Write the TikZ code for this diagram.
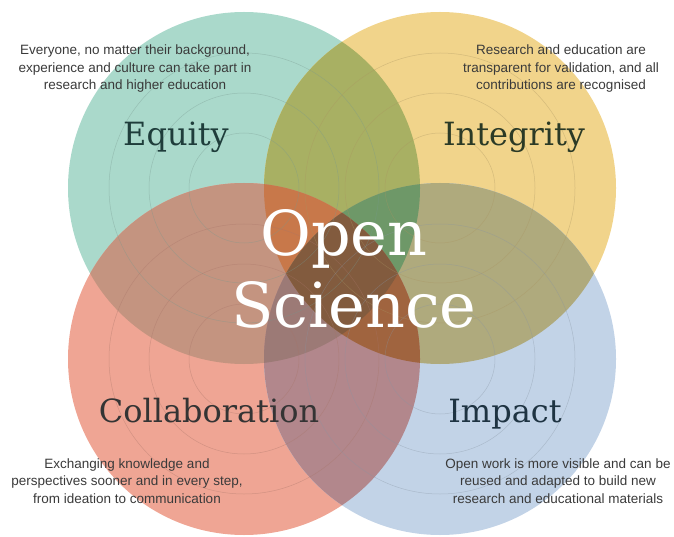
\documentclass[tikz,border=0pt]{standalone}
\usepackage{fontspec}
\setmainfont{Liberation Sans}
\newfontfamily\slabfont{DejaVu Serif}
% single circles
\definecolor{EquityTeal}{HTML}{AAD9CB}
\definecolor{IntegrityGold}{HTML}{F1D48B}
\definecolor{CollabRed}{HTML}{EFA594}
\definecolor{ImpactBlue}{HTML}{C2D3E7}
% overlaps
\definecolor{TealGold}{HTML}{A8B063}
\definecolor{TealRed}{HTML}{C49480}
\definecolor{GoldBlue}{HTML}{AFAA7D}
\definecolor{RedBlue}{HTML}{B2878C}
\definecolor{TealGoldRed}{HTML}{C8784A}
\definecolor{TealGoldBlue}{HTML}{6E9868}
\definecolor{TealRedBlue}{HTML}{9C7A76}
\definecolor{GoldRedBlue}{HTML}{A0643F}
\definecolor{AllFour}{HTML}{825B3E}
% inks
\definecolor{EquityInk}{HTML}{1F3D3B}
\definecolor{IntegrityInk}{HTML}{2B3A26}
\definecolor{CollabInk}{HTML}{343434}
\definecolor{ImpactInk}{HTML}{1E3342}
\definecolor{BlurbGrey}{HTML}{3A3A3A}
\def\petalR{176pt}

\begin{document}
\begin{tikzpicture}[x=1pt, y=-1pt,
    ring/.style={line width=0.5pt, draw opacity=0.4},
    heading/.style={font=\slabfont\fontsize{32}{38}\selectfont, anchor=base},
    core/.style={font=\slabfont\fontsize{62}{70}\selectfont, text=white, anchor=base},
    blurb/.style={font=\fontsize{13.5}{17.5}\selectfont, align=center, text=BlurbGrey}]

    \useasboundingbox (0,0) rectangle (674,537);

    % Circle centres
    \coordinate (equity) at (244,188);
    \coordinate (integrity) at (440,188);
    \coordinate (collab) at (244,359);
    \coordinate (impact) at (440,359);

    % Single circles
    \foreach \name/\col in {equity/EquityTeal, integrity/IntegrityGold, collab/CollabRed, impact/ImpactBlue}
        \fill[\col] (\name) circle[radius=\petalR];

    % Pairwise overlaps
    \foreach \a/\b/\col in {equity/integrity/TealGold, equity/collab/TealRed,
                            integrity/impact/GoldBlue, collab/impact/RedBlue}{
        \begin{scope}
            \clip (\a) circle[radius=\petalR];
            \fill[\col] (\b) circle[radius=\petalR];
        \end{scope}
    }

    % Triple overlaps
    \foreach \a/\b/\c/\col in {equity/integrity/collab/TealGoldRed, equity/integrity/impact/TealGoldBlue,
                               equity/collab/impact/TealRedBlue, integrity/collab/impact/GoldRedBlue}{
        \begin{scope}
            \clip (\a) circle[radius=\petalR];
            \clip (\b) circle[radius=\petalR];
            \fill[\col] (\c) circle[radius=\petalR];
        \end{scope}
    }

    % All four
    \begin{scope}
        \clip (equity) circle[radius=\petalR];
        \clip (integrity) circle[radius=\petalR];
        \clip (collab) circle[radius=\petalR];
        \fill[AllFour] (impact) circle[radius=\petalR];
    \end{scope}

    % Faint rings inside each circle
    \foreach \name/\col in {equity/EquityTeal, integrity/IntegrityGold, collab/CollabRed, impact/ImpactBlue}
        \foreach \r in {55,95,135}
            \draw[ring, \col!70!black] (\name) circle[radius=\r pt];

    % Headings
    \node[heading, text=EquityInk] (equityTitle) at (176,146) {Equity};
    \node[heading, text=IntegrityInk] (integrityTitle) at (514,146) {Integrity};
    \node[heading, text=CollabInk] (collabTitle) at (209,422) {Collaboration};
    \node[heading, text=ImpactInk] (impactTitle) at (505,422) {Impact};

    % Centre title
    \node[core] (open) at (344,255) {Open};
    \node[core] (science) at (354,327) {Science};

    % Descriptions
    \node[blurb] (equityText) at (135,69) {Everyone, no matter their background,\\experience and culture can take part in\\research and higher education};
    \node[blurb] (integrityText) at (561,69) {Research and education are\\transparent for validation, and all\\contributions are recognised};
    \node[blurb] (collabText) at (127,481) {Exchanging knowledge and\\perspectives sooner and in every step,\\from ideation to communication};
    \node[blurb] (impactText) at (558,481) {Open work is more visible and can be\\reused and adapted to build new\\research and educational materials};

\end{tikzpicture}
\end{document}
